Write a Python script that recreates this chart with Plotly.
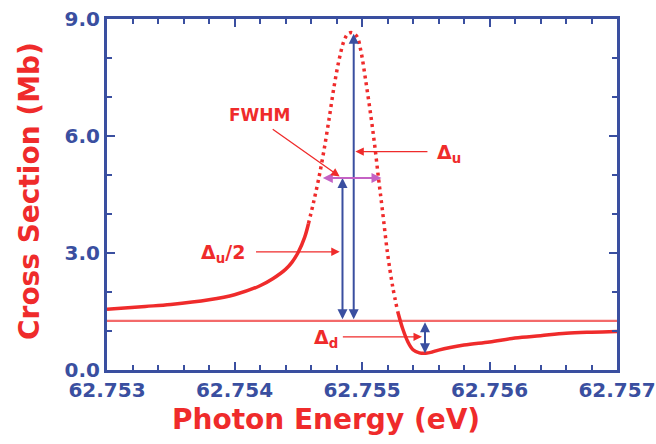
import plotly.graph_objects as go

# ---- data ----
x_left = [62.7530, 62.7533, 62.7535, 62.7538, 62.7540, 62.7542, 62.7543, 62.7544,
          62.75445, 62.7545, 62.75455, 62.75458]
y_left = [1.56, 1.63, 1.68, 1.80, 1.93, 2.16, 2.34, 2.58, 2.76, 3.02, 3.40, 3.75]

x_mid = [62.75458, 62.75462, 62.75466, 62.75470, 62.75474, 62.75478, 62.75482, 62.75486,
         62.75489, 62.75492, 62.75496, 62.75499, 62.75503, 62.75507, 62.75510, 62.75513,
         62.75516, 62.75520, 62.75524, 62.75528]
y_mid = [3.75, 4.30, 4.90, 5.60, 6.40, 7.25, 7.95, 8.45, 8.62, 8.65, 8.55, 8.20, 7.40,
         6.50, 5.75, 4.90, 4.10, 3.00, 2.15, 1.50]

x_right = [62.75528, 62.75532, 62.75536, 62.7554, 62.75545, 62.7555, 62.75555, 62.7556,
           62.7558, 62.7560, 62.7562, 62.7564, 62.7566, 62.7568, 62.7570]
y_right = [1.50, 1.05, 0.72, 0.52, 0.44, 0.43, 0.46, 0.51, 0.64, 0.72, 0.82, 0.88, 0.94,
           0.97, 0.99]

baseline = 1.26
peak_x, peak_y = 62.754935, 8.62
half_x, half_y = 62.754847, 4.92
fwhm_x = [62.754681, 62.755153]
dip_x, dip_y = 62.755494, 0.43

x_ticks = [62.753, 62.754, 62.755, 62.756, 62.757]
x_ticktext = ["62.753", "62.754", "62.755", "62.756", "62.757"]
y_ticks = [0, 3, 6, 9]
y_ticktext = ["0.0", "3.0", "6.0", "9.0"]

RED = "#ef2b2b"
LRED = "#f36a6a"
BLUE = "#3a4fa0"
MAG = "#c462c4"
FONT = "DejaVu Sans"

fig = go.Figure()
fig.add_trace(go.Scatter(x=[x_ticks[0], x_ticks[-1]], y=[baseline, baseline], mode="lines",
                         line=dict(color=LRED, width=2.2), hoverinfo="skip"))
fig.add_trace(go.Scatter(x=x_left, y=y_left, mode="lines",
                         line=dict(color=RED, width=3.5, shape="spline"), hoverinfo="skip"))
fig.add_trace(go.Scatter(x=x_mid, y=y_mid, mode="lines",
                         line=dict(color=RED, width=3.5, dash="3px,4px", shape="spline"),
                         hoverinfo="skip"))
fig.add_trace(go.Scatter(x=x_right, y=y_right, mode="lines",
                         line=dict(color=RED, width=3.5, shape="spline"), hoverinfo="skip"))

ann = []
def arrow(x, y, ax, ay, color, width, both=False, size=1.0):
    ann.append(dict(x=x, y=y, ax=ax, ay=ay, xref="x", yref="y", axref="x", ayref="y",
                    text="", showarrow=True, arrowhead=2, arrowsize=size, arrowwidth=width,
                    arrowcolor=color, arrowside="end+start" if both else "end"))

# blue measurement arrows
arrow(peak_x, peak_y, peak_x, baseline, BLUE, 2, both=True)
arrow(half_x, half_y, half_x, baseline, BLUE, 2, both=True)
arrow(dip_x, dip_y, dip_x, baseline, BLUE, 2, both=True)
# magenta FWHM arrow
arrow(fwhm_x[1], half_y, fwhm_x[0], half_y, MAG, 2, both=True)
# red pointers
arrow(62.754825, 4.96, 62.754288, 6.20, RED, 1.3, size=1.3)
arrow(62.754948, 5.60, 62.755525, 5.60, RED, 1.3, size=1.3)
arrow(62.754825, 3.03, 62.754157, 3.03, RED, 1.3, size=1.3)
arrow(62.755470, 0.85, 62.754838, 0.85, RED, 1.3, size=1.3)

lab = dict(color=RED, family=FONT, size=19, weight="bold")
ann.append(dict(x=62.754200, y=6.54, xref="x", yref="y", text="FWHM", showarrow=False,
                font=dict(color=RED, family=FONT, size=17, weight="bold")))
ann.append(dict(x=62.755570, y=5.55, xref="x", yref="y", text="Δ<sub>u</sub>", showarrow=False,
                xanchor="left", font=lab))
ann.append(dict(x=62.754100, y=2.98, xref="x", yref="y", text="Δ<sub>u</sub>/2", showarrow=False,
                xanchor="right", font=lab))
ann.append(dict(x=62.754830, y=0.80, xref="x", yref="y", text="Δ<sub>d</sub>", showarrow=False,
                xanchor="right", font=lab))

# axis titles
ann.append(dict(x=0.43, y=-0.142, xref="paper", yref="paper", text="Photon Energy (eV)",
                showarrow=False, yanchor="middle",
                font=dict(color=RED, family=FONT, size=28, weight="bold")))
ann.append(dict(x=-0.151, y=0.51, xref="paper", yref="paper", text="Cross Section (Mb)",
                showarrow=False, textangle=-90, xanchor="center", yanchor="middle",
                font=dict(color=RED, family=FONT, size=28, weight="bold")))

axis_common = dict(showline=True, linecolor=BLUE, linewidth=3, mirror="ticks", ticks="inside",
                   tickcolor=BLUE, tickwidth=2, ticklen=8, showgrid=False, zeroline=False,
                   automargin=False, ticklabeloverflow="allow",
                   tickfont=dict(color=BLUE, family=FONT, size=20, weight="bold"))

fig.update_layout(
    width=656, height=444,
    margin=dict(l=107, r=39, t=19, b=74, autoexpand=False),
    paper_bgcolor="white", plot_bgcolor="white",
    showlegend=False,
    xaxis=dict(range=[x_ticks[0], x_ticks[-1]], tickvals=x_ticks, ticktext=x_ticktext,
               minor=dict(dtick=0.0002, ticks="inside", ticklen=5, tickcolor=BLUE, tickwidth=2),
               **axis_common),
    yaxis=dict(range=[0, 9], tickvals=y_ticks, ticktext=y_ticktext,
               minor=dict(dtick=1, ticks="inside", ticklen=5, tickcolor=BLUE, tickwidth=2),
               **axis_common),
    annotations=ann,
)

# remove the default 8px page margin so the figure fills the 656x444 window exactly
fig.write_html("out.html", config={"displayModeBar": False},
               post_script="document.body.style.margin='0';")
